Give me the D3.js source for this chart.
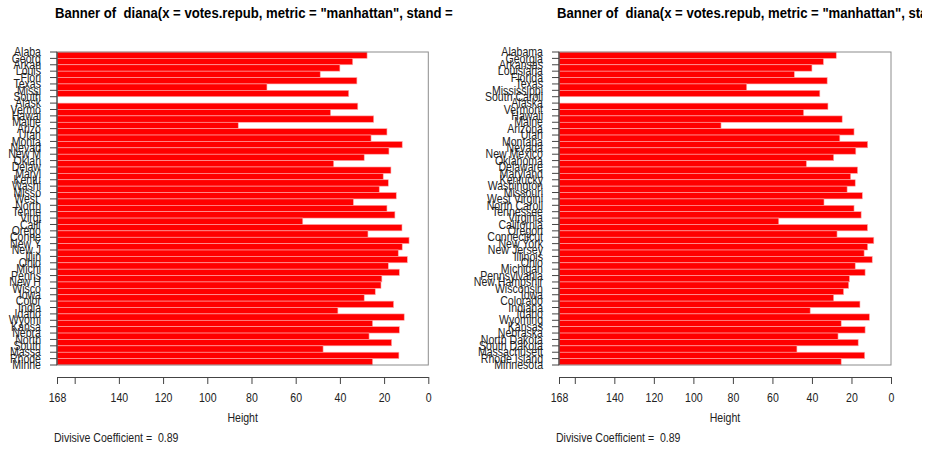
<!DOCTYPE html>
<html><head><meta charset="utf-8">
<script src="https://cdn.jsdelivr.net/npm/d3@7"></script>
<style>
body{margin:0;background:#fff}
text{font-family:"Liberation Sans",Arial,Helvetica,sans-serif;white-space:pre}
</style>
</head><body>
<svg id="c" width="925" height="451" xmlns="http://www.w3.org/2000/svg"></svg>
<script>
// ---- data ----
const states = ["Alabama","Georgia","Arkansas","Louisiana","Florida","Texas","Mississippi","South Carolina",
  "Alaska","Vermont","Hawaii","Maine","Arizona","Utah","Montana","Nevada","New Mexico","Oklahoma",
  "Delaware","Maryland","Kentucky","Washington","Missouri","West Virginia","North Carolina","Tennessee",
  "Virginia","California","Oregon","Connecticut","New York","New Jersey","Illinois","Ohio","Michigan",
  "Pennsylvania","New Hampshire","Wisconsin","Iowa","Colorado","Indiana","Idaho","Wyoming","Kansas",
  "Nebraska","North Dakota","South Dakota","Massachusetts","Rhode Island","Minnesota"];
// height at which each pair of adjacent states (in banner order) is separated
const heights = [27.7,34.2,40.0,48.9,32.3,73.0,36.0,168,31.9,44.2,24.7,86.0,18.7,25.9,11.8,17.8,
  29.0,42.8,16.9,20.4,18.1,22.2,14.5,33.9,18.7,15.1,56.8,11.9,27.3,8.7,11.8,13.6,9.5,18.1,13.1,
  21.0,21.4,24.0,29.0,15.7,40.9,10.9,25.2,13.1,26.8,16.6,47.6,13.3,25.2];
const xTicks = [168,160,140,120,100,80,60,40,20,0];
const xTickLabels = ["168","","140","120","100","80","60","40","20","0"];
const maxHeight = 168;
const titleText = 'Banner of  diana(x = votes.repub, metric = "manhattan", stand = TRUE)';
const titlePrefix = 'Banner of  diana(x = votes.repub, metric = "manhattan", stand =';
const xLabel = "Height";
const coefText = "Divisive Coefficient =  0.89";
const panelLabelLengths = [5, 12];

// ---- drawing ----
const svg = d3.select("#c");
svg.append("rect").attr("width",925).attr("height",451).attr("fill","#fff");
const defs = svg.append("defs");
defs.append("clipPath").attr("id","clipL").append("rect").attr("x",0).attr("y",0).attr("width",456).attr("height",451);
defs.append("clipPath").attr("id","clipR").append("rect").attr("x",0).attr("y",0).attr("width",922).attr("height",451);

// measure title compression
const tmp = svg.append("text").attr("font-size",14).attr("font-weight","bold").text(titlePrefix);
const prefW = tmp.node().getComputedTextLength();
tmp.remove();
const titleSx = 398 / prefW;
const sx = 0.88; // horizontal compression of other text

function panel(x0, x1, strlen, clipId) {
  const g = svg.append("g");
  const x = d3.scaleLinear().domain([maxHeight, 0]).range([x0, x1]);
  const y = d3.scaleLinear().domain([0, states.length - 1]).range([52, 365]);

  // title (left-adjusted on plot region, clipped to figure region)
  g.append("g").attr("clip-path", `url(#${clipId})`)
    .append("text").attr("transform", `translate(${x0-2},18) scale(${titleSx},1)`)
    .attr("font-size",14).attr("font-weight","bold").attr("fill","#000").text(titleText);

  // bars
  g.append("g").selectAll("rect").data(heights).join("rect")
    .attr("x", x(maxHeight))
    .attr("y", (d,i) => y(i))
    .attr("width", d => Math.max(0, x(d) - x(maxHeight)))
    .attr("height", (d,i) => y(i+1) - y(i))
    .attr("fill", "#ff0000")
    .attr("stroke", "#ffaaaa").attr("stroke-width", 0.6);

  // frame
  g.append("rect").attr("x", x(maxHeight)).attr("y", y(0))
    .attr("width", x(0) - x(maxHeight)).attr("height", y(states.length-1) - y(0))
    .attr("fill","none").attr("stroke","#8c8c8c").attr("stroke-width",1);
  g.append("line").attr("x1", x(maxHeight)).attr("x2", x(maxHeight))
    .attr("y1", y(0)).attr("y2", y(states.length-1)).attr("stroke","#333").attr("stroke-width",1);

  // y ticks + labels
  const yl = g.append("g");
  states.forEach((s,i) => {
    yl.append("line").attr("x1",x0-7).attr("x2",x0).attr("y1",y(i)).attr("y2",y(i))
      .attr("stroke","#444").attr("stroke-width",1);
    yl.append("text").attr("transform",`translate(${x0-16},${y(i)+4.2}) scale(${sx},1)`)
      .attr("text-anchor","end").attr("font-size",12).attr("fill","#222")
      .text(s.substring(0, strlen));
  });

  // x axis
  const ax = g.append("g").attr("transform","translate(0,377)")
    .call(d3.axisBottom(x).tickValues(xTicks)
      .tickFormat((d,i) => xTickLabels[i]).tickSize(7).tickSizeOuter(0).tickPadding(9.8));
  ax.select(".domain").attr("stroke","#444");
  ax.selectAll(".tick line").attr("stroke","#444");
  ax.selectAll(".tick text").attr("font-size",12).attr("fill","#222")
    .attr("font-family",'"Liberation Sans",Arial,sans-serif')
    .attr("transform",`scale(${sx},1)`);

  g.append("text").attr("transform",`translate(${(x(maxHeight)+x(0))/2},422) scale(${sx},1)`)
    .attr("text-anchor","middle").attr("font-size",12).attr("fill","#222").text(xLabel);
  g.append("text").attr("transform",`translate(${x0-3},442) scale(${sx},1)`)
    .attr("font-size",12).attr("fill","#222").text(coefText);
}

panel(57, 428.3, panelLabelLengths[0], "clipL");
panel(559, 891, panelLabelLengths[1], "clipR");
</script>
</body></html>
